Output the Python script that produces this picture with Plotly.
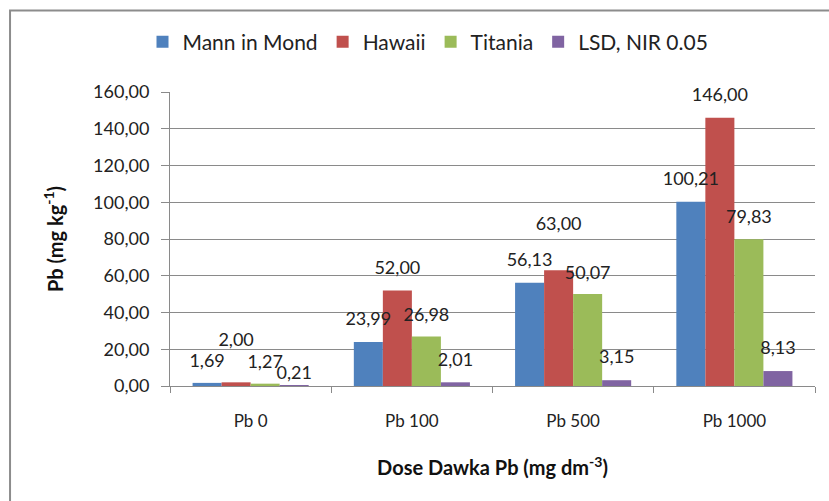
import plotly.graph_objects as go

categories = ["Pb 0", "Pb 100", "Pb 500", "Pb 1000"]
mann_in_mond = [1.69, 23.99, 56.13, 100.21]
hawaii = [2.00, 52.00, 63.00, 146.00]
titania = [1.27, 26.98, 50.07, 79.83]
lsd = [0.21, 2.01, 3.15, 8.13]

colors = ["#4F81BD", "#C0504D", "#9BBB59", "#8064A2"]
names = ["Mann in Mond", "Hawaii", "Titania", "LSD, NIR 0.05"]
values = [mann_in_mond, hawaii, titania, lsd]
# label lift (invisible marker size controls the text gap above each bar)
lift = [[16, 18, 18, 18], [50, 18, 55, 18], [16, 16, 16, 18], [1, 18, 18, 18]]

FONT = "Lato, 'Open Sans', sans-serif"

fig = go.Figure()
for name, vals, color in zip(names, values, colors):
    fig.add_trace(go.Bar(
        name=name, x=categories, y=vals,
        marker=dict(color=color, line=dict(width=0)),
        hoverinfo="x+y+name",
    ))
for name, vals, sz in zip(names, values, lift):
    fig.add_trace(go.Scatter(
        x=categories, y=vals, mode="markers+text",
        marker=dict(size=sz, opacity=0, color="rgba(0,0,0,0)"),
        texttemplate="%{y:.2f}", textposition="top center",
        textfont=dict(size=18, color="#222222", family=FONT),
        cliponaxis=False, showlegend=False, hoverinfo="skip", name=name + " labels",
    ))

fig.update_layout(
    width=829, height=501,
    separators=", ",
    barmode="group", bargap=0.28, bargroupgap=0,
    scattermode="group", scattergap=0.28,
    plot_bgcolor="white", paper_bgcolor="white",
    margin=dict(l=170, r=14, t=92, b=115, autoexpand=False),
    font=dict(family=FONT, size=18, color="#222222"),
    legend=dict(orientation="h", x=0.40, xanchor="center", y=1.17, yanchor="middle",
                font=dict(size=21, color="#222222"), traceorder="normal",
                itemclick=False, itemwidth=30),
    showlegend=True,
    shapes=[dict(type="rect", xref="paper", yref="paper",
                 x0=-0.248, x1=1.3, y0=-0.8, y1=1.277,
                 line=dict(color="#8c8c8c", width=2), fillcolor="rgba(0,0,0,0)",
                 layer="below")],
)

fig.update_yaxes(
    range=[0, 160], dtick=20, tickformat=".2f",
    showgrid=True, gridcolor="#8a8a8a", gridwidth=1,
    showline=True, linecolor="#8a8a8a", linewidth=1,
    ticks="outside", ticklen=8, tickcolor="#8a8a8a",
    tickfont=dict(size=18, color="#222222"),
    ticklabelstandoff=8,
    zeroline=False, automargin=False,
    title=dict(text="<b>Pb (mg kg<sup>-1</sup>)</b>", font=dict(size=20, color="#111111"), standoff=24),
)
fig.update_xaxes(
    showline=True, linecolor="#8a8a8a", linewidth=1,
    ticks="outside", ticklen=6, tickcolor="#8a8a8a", tickson="boundaries",
    tickfont=dict(size=17, color="#222222"),
    ticklabelstandoff=20, automargin=False,
    title=dict(text="<b>Dose Dawka Pb (mg dm<sup>-3</sup>)</b>", font=dict(size=20, color="#111111"), standoff=30),
)

fig.write_html("out.html", config={"displayModeBar": False},
               post_script="document.body.style.margin='0';")
